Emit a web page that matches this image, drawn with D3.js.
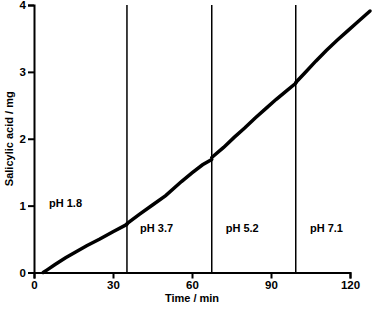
<!DOCTYPE html>
<html>
<head>
<meta charset="utf-8">
<style>
  body { margin: 0; background: #fff; }
  svg text { font-family: "Liberation Sans", Arial, sans-serif; font-weight: bold; fill: #000; }
</style>
</head>
<body>
<div id="chart"></div>
<script src="https://d3js.org/d3.v7.min.js"></script>
<script>
// released salicylic acid (mg) vs time (min)
var seg1 = [[3.5, 0], [5, 0.04], [8, 0.12], [12, 0.22], [16, 0.31], [20, 0.40], [25, 0.50], [30, 0.61], [35.3, 0.72]];
var seg2 = [[35.3, 0.73], [40, 0.87], [45, 1.01], [50, 1.15], [56, 1.36], [60, 1.49], [64, 1.61], [67.5, 1.69]];
var seg3 = [[67.5, 1.72], [72, 1.87], [76, 2.02], [80, 2.16], [84, 2.31], [88, 2.45], [92, 2.59], [96, 2.72], [99.4, 2.83]];
var seg4 = [[99.4, 2.84], [103, 2.99], [107, 3.16], [111, 3.32], [115, 3.47], [119, 3.61], [123, 3.75], [127.6, 3.91]];

var phChanges = [35.3, 67.5, 99.4];
var phLabels = ["pH 1.8", "pH 3.7", "pH 5.2", "pH 7.1"];
var phLabelX = [5.7, 40.3, 72.8, 104.8];
var phLabelY = [1.04, 0.66, 0.66, 0.66];

var xTicks = [0, 30, 60, 90, 120];
var yTicks = [0, 1, 2, 3, 4];

var margin = { top: 5, right: 23, bottom: 37.5, left: 34 },
  width = 373 - margin.left - margin.right,
  height = 310 - margin.top - margin.bottom;

var svg = d3.select("#chart")
  .append("svg")
  .attr("width", 373)
  .attr("height", 310)
  .append("g")
  .attr("transform", "translate(" + margin.left + "," + margin.top + ")");

var x = d3.scaleLinear().domain([0, 120]).range([0, width]);
var y = d3.scaleLinear().domain([0, 4]).range([height, 0]);

// pH change markers
svg.selectAll(".ph-line")
  .data(phChanges)
  .enter().append("line")
  .attr("x1", function(d) { return x(d); })
  .attr("x2", function(d) { return x(d); })
  .attr("y1", y(0))
  .attr("y2", y(4))
  .style("stroke", "#000")
  .style("stroke-width", 1.5);

// axes
var xAxis = svg.append("g")
  .attr("transform", "translate(0," + height + ")")
  .call(d3.axisBottom(x).tickValues(xTicks).tickFormat(d3.format("d"))
    .tickSizeOuter(0).tickSize(6).tickPadding(2));

var yAxis = svg.append("g")
  .call(d3.axisLeft(y).tickValues(yTicks).tickFormat(d3.format("d"))
    .tickSizeOuter(0).tickSize(6).tickPadding(2));

[xAxis, yAxis].forEach(function(a) {
  a.select(".domain").style("stroke", "#000").style("stroke-width", 2);
  a.selectAll(".tick line").style("stroke", "#000").style("stroke-width", 2);
  a.selectAll(".tick text").style("font-size", "11.5px")
    .style("font-family", "Liberation Sans, Arial, sans-serif").style("font-weight", "bold");
});

// the release curve
var line = d3.line()
  .x(function(d) { return x(d[0]); })
  .y(function(d) { return y(d[1]); });

svg.selectAll(".seg")
  .data([seg1, seg2, seg3, seg4])
  .enter().append("path")
  .attr("d", line)
  .style("fill", "none")
  .style("stroke", "#000")
  .style("stroke-width", 3.5)
  .style("stroke-linecap", "round");

// pH labels
svg.selectAll(".ph-label")
  .data(phLabels)
  .enter().append("text")
  .attr("x", function(d, i) { return x(phLabelX[i]); })
  .attr("y", function(d, i) { return y(phLabelY[i]); })
  .attr("dy", "0.35em")
  .style("font-size", "11px")
  .text(function(d) { return d; });

// axis titles
svg.append("text")
  .attr("x", x(60))
  .attr("y", height + 29)
  .attr("text-anchor", "middle")
  .style("font-size", "11px")
  .text("Time / min");

svg.append("text")
  .attr("transform", "translate(" + (-21) + "," + y(2.0) + ") rotate(-90)")
  .attr("text-anchor", "middle")
  .style("font-size", "11px")
  .text("Salicylic acid / mg");
</script>
</body>
</html>
